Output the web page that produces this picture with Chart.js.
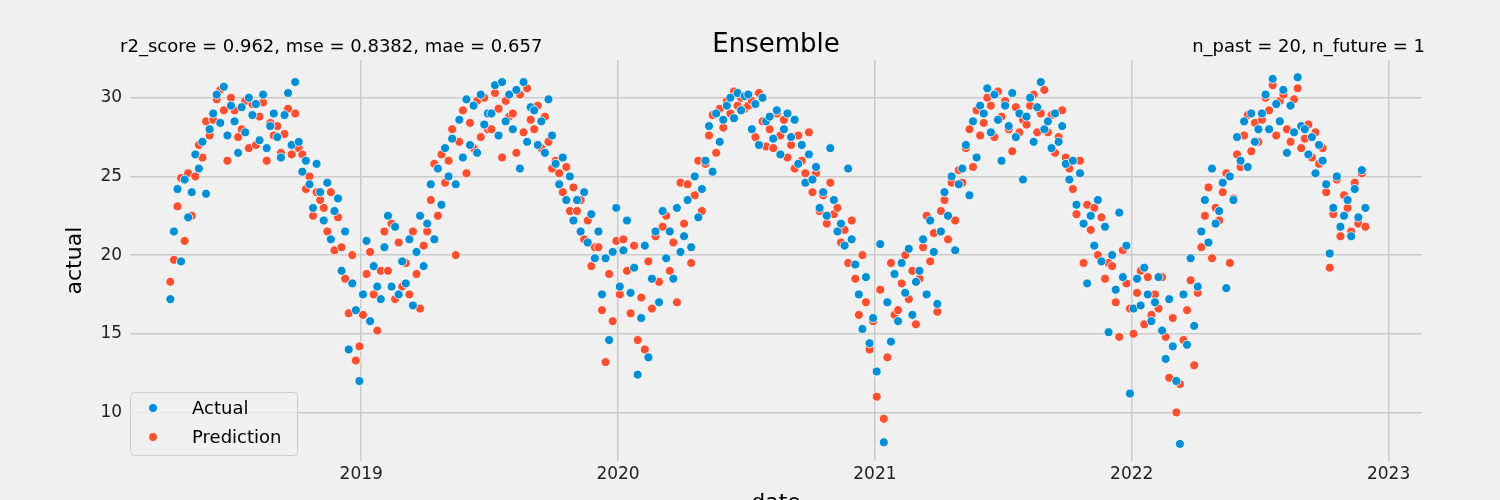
<!DOCTYPE html>
<html><head><meta charset="utf-8">
<script src="https://cdn.jsdelivr.net/npm/chart.js@4"></script>
<style>html,body{margin:0;background:#f0f0f0}#w{width:1500px;height:500px}</style>
</head><body><div id="w"><canvas id="c"></canvas></div>
<script>
const months = ["2018-04","2018-05","2018-06","2018-07","2018-08","2018-09","2018-10","2018-11","2018-12",
"2019-01","2019-02","2019-03","2019-04","2019-05","2019-06","2019-07","2019-08","2019-09","2019-10","2019-11","2019-12",
"2020-01","2020-02","2020-03","2020-04","2020-05","2020-06","2020-07","2020-08","2020-09","2020-10","2020-11","2020-12",
"2021-01","2021-02","2021-03","2021-04","2021-05","2021-06","2021-07","2021-08","2021-09","2021-10","2021-11","2021-12",
"2022-01","2022-02","2022-03","2022-04","2022-05","2022-06","2022-07","2022-08","2022-09","2022-10","2022-11"];
const actual = [
[17.2,21.5,24.2,19.6,24.8,22.4],[24.0,26.4,25.5,27.2,23.9,28.0],[29.0,30.2,28.4,30.7,27.6,29.5],[28.5,26.5,29.4,27.8,30.0,28.9],
[29.6,27.3,30.2,26.8,28.2,29.0],[27.5,26.2,28.9,30.3,27.0,31.0],[27.2,25.3,26.0,24.5,23.0,25.8],[24.0,22.2,24.6,21.0,22.8,23.6],
[19.0,21.5,14.0,18.2,16.5,12.0],[17.5,20.9,15.8,19.3,18.0,17.2],[20.5,22.5,18.0,21.8,17.5,19.6],[18.2,21.0,16.8,20.2,22.5,19.3],
[22.0,24.5,21.0,25.5,23.2,26.8],[25.0,27.4,24.5,28.6,26.2,29.9],[27.0,29.5,26.5,30.2,28.3,29.0],[29.0,30.8,27.6,31.0,28.5,30.2],
[28.0,30.5,25.5,31.0,27.2,29.4],[29.2,27.0,28.5,26.5,29.9,27.6],[25.8,24.5,26.2,23.5,25.0,22.2],[23.5,21.5,24.0,20.8,22.6,19.8],
[21.5,17.5,19.8,14.6,20.2,23.0],[18.0,20.3,22.2,17.6,19.2,12.4],[16.0,20.6,13.5,18.5,21.5,17.0],[22.8,19.8,21.5,18.5,23.0,20.2],
[21.2,23.5,20.5,25.0,22.4,24.2],[26.0,28.2,25.3,29.0,27.2,28.6],[29.5,30.0,28.7,30.3,29.2,30.1],[30.2,28.0,29.6,27.0,30.0,28.5],
[28.8,27.4,29.2,26.4,28.0,29.0],[27.5,28.6,25.8,27.0,24.6,26.4],[24.8,25.6,23.0,24.0,22.5,26.8],[23.5,21.5,22.0,20.6,25.5,21.0],
[19.4,17.5,15.3,18.6,14.4,16.0],[12.6,20.7,8.1,17.0,14.5,18.8],[15.8,19.5,17.6,20.4,16.2,18.3],[19.0,21.0,17.5,22.2,20.2,16.9],
[21.5,24.0,22.5,25.0,20.3,24.5],[25.5,27.0,23.8,28.5,26.2,29.5],[29.0,30.6,27.8,30.2,28.6,26.0],[29.5,28.2,30.3,27.5,29.0,24.8],
[28.8,30.0,27.2,29.4,31.0,28.0],[28.5,26.8,29.0,27.2,28.2,25.8],[24.8,26.0,23.2,25.2,22.0,18.2],[22.5,20.6,23.5,19.6,21.8,15.1],
[20.0,17.8,22.7,18.6,20.6,11.2],[16.6,18.5,16.8,19.2,17.5,15.8],[17.0,18.6,15.2,13.4,17.2,14.2],[12.0,8.0,17.5,14.3,19.8,15.5],
[18.0,21.5,23.5,20.8,25.5,22.0],[22.8,24.6,17.9,25.0,23.5,27.5],[26.0,28.5,25.6,29.0,27.2,28.0],[29.0,30.2,28.0,31.2,29.6,28.5],
[30.5,26.5,29.5,27.8,31.3,28.2],[28.0,26.4,27.5,25.2,27.0,26.0],[24.5,20.1,23.0,25.0,21.8,22.5],[23.5,21.2,24.2,22.4,25.4,23.0]];
const prediction = [
[18.3,19.7,23.1,24.9,20.9,25.2],[22.5,25.0,27.0,26.2,28.5,27.6],[28.6,29.9,30.5,29.2,26.0,30.0],[29.2,27.5,28.0,29.8,26.8,29.6],
[27.0,28.8,29.7,26.0,28.4,27.6],[28.2,26.5,27.7,29.3,26.4,29.0],[26.8,26.4,24.2,25.0,22.5,24.0],[23.5,23.0,21.5,24.0,20.3,22.4],
[20.5,18.5,16.3,20.0,13.3,14.2],[16.2,18.8,20.2,17.5,15.2,19.0],[21.5,19.0,22.0,17.2,20.8,18.0],[19.5,17.5,21.5,18.8,16.6,20.6],
[21.5,23.5,25.8,22.5,26.4,24.6],[26.0,28.0,20.0,27.2,29.2,25.2],[28.4,26.8,29.8,27.5,30.0,28.0],[28.0,30.3,29.3,26.2,29.8,28.8],
[29.0,26.5,30.2,27.8,30.6,28.6],[28.0,29.5,26.8,28.8,27.2,25.5],[26.0,25.2,24.0,25.6,22.8,24.3],[22.8,23.5,21.0,22.2,19.3,20.5],
[20.5,16.5,13.2,18.8,15.8,20.9],[17.5,21.0,19.0,16.3,20.6,14.6],[17.3,14.0,19.6,16.6,21.2,18.3],[21.8,22.5,19.0,20.8,17.0,24.6],
[22.0,24.5,19.5,23.8,26.0,22.8],[25.8,27.6,28.9,26.5,29.3,28.1],[29.8,29.0,30.4,29.5,30.0,29.3],[29.5,29.8,27.5,30.3,28.5,26.9],
[28.0,26.8,29.0,27.6,28.6,26.2],[27.0,25.5,27.6,26.0,25.2,27.8],[24.0,25.2,22.8,23.8,22.0,24.6],[22.6,23.0,20.8,21.6,19.5,22.2],
[18.5,16.2,20.0,17.0,14.0,15.8],[11.0,17.8,9.6,13.5,19.5,16.2],[16.5,18.2,20.0,17.2,19.0,15.6],[18.5,20.5,22.5,19.6,21.4,16.4],
[22.8,23.5,21.0,24.6,22.2,25.4],[24.6,26.8,28.0,25.6,29.2,27.6],[28.4,30.0,29.5,27.5,30.4,28.8],[29.8,28.0,26.6,29.4,27.8,28.6],
[28.3,29.5,30.2,27.8,29.0,30.5],[27.8,28.9,26.5,27.5,29.2,26.2],[25.5,24.2,22.6,26.0,19.5,23.2],[21.6,23.0,20.0,22.4,18.5,19.5],
[19.3,17.0,14.8,20.3,18.2,16.6],[15.0,17.6,19.0,15.6,18.6,16.2],[17.5,16.6,18.6,14.8,12.2,16.0],[10.0,11.8,14.6,16.5,18.4,13.0],
[17.6,20.5,22.5,24.3,19.8,23.0],[22.2,24.0,25.2,19.5,23.6,26.4],[25.6,27.6,28.9,26.6,28.4,27.2],[28.6,30.0,29.2,30.8,27.6,29.8],
[30.2,28.0,27.2,29.9,30.6,26.8],[27.4,28.3,26.2,27.8,25.8,26.8],[24.0,19.2,22.6,24.8,21.2,23.8],[23.0,21.5,24.6,22.0,25.2,21.8]];
const yTicks=[10,15,20,25,30], xTicks=[2019,2020,2021,2022,2023];

function pts(arr){const out=[];months.forEach((m,k)=>{const [y,mo]=m.split('-').map(Number);
 arr[k].forEach((v,i)=>out.push({x:y+(mo-1+(i+0.5)/arr[k].length)/12,y:v}));});return out;}

const C_A='#008fd5',C_P='#fc4f30';
const deco={id:'deco',afterDraw(ch){const c=ch.ctx,a=ch.chartArea;c.save();
 c.fillStyle='#000';c.font='26px "DejaVu Sans"';c.textAlign='center';c.textBaseline='alphabetic';
 c.fillText('Ensemble',(a.left+a.right)/2,52);
 c.font='18px "DejaVu Sans"';c.textAlign='left';c.fillText('r2_score = 0.962, mse = 0.8382, mae = 0.657',a.left-10,52);
 c.textAlign='right';c.fillText('n_past = 20, n_future = 1',a.right+3,52);
 const lx=a.left,ly=392,w=167,h=63;c.fillStyle='rgba(240,240,240,0.8)';c.strokeStyle='#cccccc';c.lineWidth=1;
 c.beginPath();c.roundRect(lx+0.5,ly+0.5,w,h,4);c.fill();c.stroke();
 [[C_A,'Actual',408],[C_P,'Prediction',437]].forEach(([col,t,yy])=>{c.fillStyle=col;c.strokeStyle='#fff';c.lineWidth=0.8;
  c.beginPath();c.arc(lx+23,yy,4.5,0,Math.PI*2);c.fill();c.stroke();
  c.fillStyle='#000';c.font='18px "DejaVu Sans"';c.textAlign='left';c.textBaseline='middle';c.fillText(t,lx+62,yy+1);});
 c.restore();}};
const bg={id:'bg',beforeDraw(ch){const c=ch.ctx;c.save();c.fillStyle='#f0f0f0';c.fillRect(0,0,ch.width,ch.height);c.restore();}};

new Chart(document.getElementById('c'),{type:'scatter',
 data:{datasets:[
  {label:'Actual',data:pts(actual),backgroundColor:C_A,borderColor:'#fff',borderWidth:0.8,pointRadius:4.5},
  {label:'Prediction',data:pts(prediction),backgroundColor:C_P,borderColor:'#fff',borderWidth:0.8,pointRadius:4.5}]},
 options:{responsive:true,maintainAspectRatio:false,animation:false,
  layout:{padding:{left:58,right:78,top:60,bottom:0}},
  plugins:{legend:{display:false},tooltip:{enabled:false}},
  scales:{
   x:{type:'linear',min:2018.1,max:2023.13,
    afterBuildTicks(s){s.ticks=xTicks.map(v=>({value:v}));},
    ticks:{color:'#222',font:{size:17,family:'DejaVu Sans'},callback:v=>String(v)},
    grid:{color:'#cbcbcb',lineWidth:1.5,drawTicks:false},border:{display:false},
    title:{display:true,text:'date',color:'#000',font:{size:22,family:'DejaVu Sans'},padding:{top:2,bottom:-16}}},
   y:{min:6.9,max:32.4,
    afterBuildTicks(s){s.ticks=yTicks.map(v=>({value:v}));},
    ticks:{color:'#222',font:{size:17,family:'DejaVu Sans'},padding:8},
    grid:{color:'#cbcbcb',lineWidth:1.5,drawTicks:false},border:{display:false},
    title:{display:true,text:'actual',color:'#000',font:{size:22,family:'DejaVu Sans'}}}}},
 plugins:[bg,deco]});
</script></body></html>
